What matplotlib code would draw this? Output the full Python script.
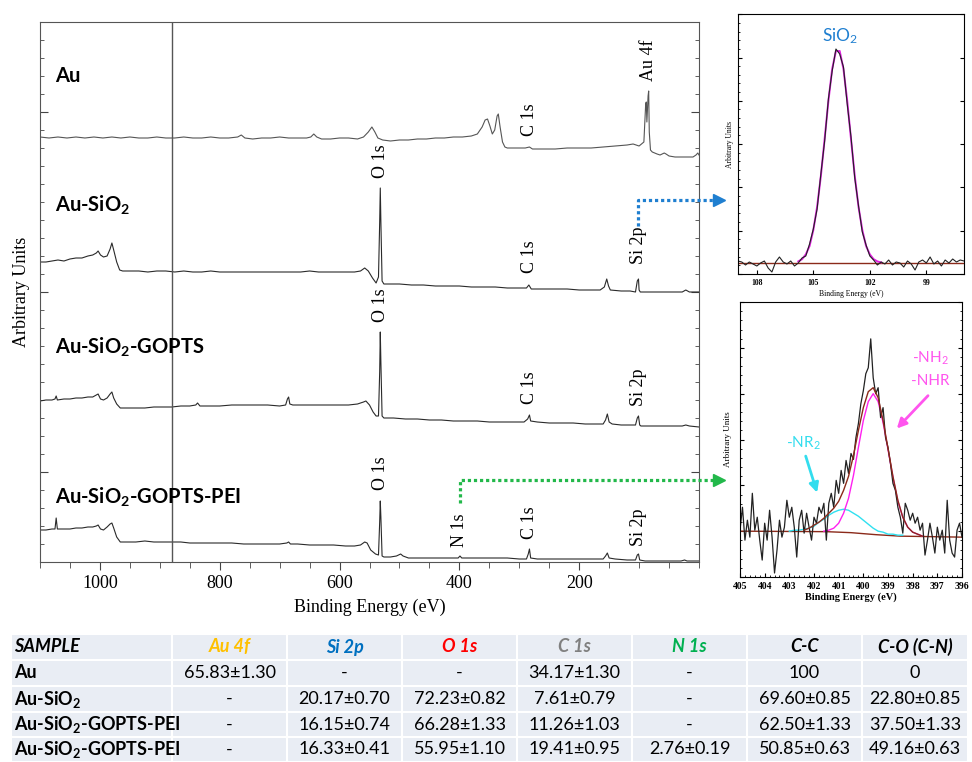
import numpy as np
import matplotlib.pyplot as plt
from matplotlib.patches import Rectangle
from matplotlib.ticker import MultipleLocator

plt.rcParams['font.family'] = ['Liberation Serif', 'DejaVu Serif']

# survey spectra (binding energy in eV, intensity in arbitrary units)
au_e = [1100, 1085, 1070, 1055, 1040, 1025, 1010, 995, 980, 965, 950, 935, 920, 905, 890, 875, 860, 845, 830,
        815, 800, 785, 770, 764, 758, 745, 730, 715, 700, 685, 670, 655, 648, 643, 638, 630, 615, 600, 585, 570,
        560, 552, 546, 541, 536, 528, 515, 500, 485, 470, 455, 440, 425, 410, 395, 380, 370, 362, 357, 353, 349,
        345, 341, 337, 335, 332, 328, 324, 320, 305, 290, 283, 278, 260, 240, 220, 200, 180, 160, 140, 120, 110,
        100, 92, 89, 88, 87, 85, 84, 83, 81, 78, 70, 65, 58, 55, 50, 40, 30, 20, 10, 5, 2, 0]
au_i = [425, 424, 425, 424, 425, 424, 425, 424, 425, 424, 425, 424, 424, 425, 424, 424, 425, 424, 424,
        425, 424, 424, 425, 427, 424, 423, 424, 424, 425, 424, 424, 424, 425, 428, 425, 423, 423, 424, 424, 423,
        425, 430, 435, 430, 424, 422, 421, 422, 422, 423, 423, 424, 424, 425, 425, 426, 428, 435, 442, 443, 436,
        428, 432, 446, 448, 435, 420, 415, 414, 414, 414, 415, 413, 413, 413, 414, 414, 414, 415, 416, 417, 418,
        416, 420, 458, 460, 440, 466, 471, 430, 412, 410, 408, 407, 409, 408, 406, 405, 405, 405, 405, 407, 409, 407]

sio2_e = [1100, 1090, 1080, 1070, 1060, 1050, 1040, 1030, 1020, 1012, 1006, 1003, 999, 994, 988, 983, 980, 977,
          972, 967, 962, 950, 935, 920, 905, 890, 875, 860, 845, 830, 815, 800, 785, 770, 755, 740, 725, 710, 695,
          680, 665, 650, 635, 620, 605, 590, 575, 565, 558, 552, 545, 539, 535, 533, 532, 531, 529, 526, 520, 500,
          480, 460, 440, 420, 400, 380, 360, 340, 320, 300, 288, 284, 280, 260, 240, 220, 200, 180, 165, 158, 154,
          151, 148, 130, 115, 106, 103, 101, 100, 98, 80, 60, 40, 28, 22, 16, 0]
sio2_i = [300, 300, 301, 302, 301, 303, 304, 304, 306, 307, 309, 311, 307, 305, 306, 313, 319, 312,
          300, 292, 291, 291, 291, 290, 291, 291, 290, 291, 290, 290, 291, 290, 290, 290, 290, 290, 290, 290, 290,
          290, 290, 291, 290, 290, 290, 290, 290, 291, 294, 291, 284, 279, 285, 340, 374, 340, 281, 278, 278, 278,
          277, 277, 276, 276, 276, 275, 275, 275, 274, 274, 274, 277, 273, 273, 273, 273, 272, 272, 272, 275, 283,
          276, 272, 271, 271, 270, 281, 283, 272, 270, 270, 270, 270, 270, 272, 270, 270]

gopts_e = [1100, 1090, 1080, 1075, 1073, 1071, 1060, 1050, 1040, 1030, 1020, 1012, 1006, 1003, 999, 994, 988,
           983, 980, 977, 972, 966, 955, 940, 925, 910, 895, 880, 865, 850, 840, 837, 833, 820, 800, 780, 760,
           740, 720, 700, 690, 687, 685, 683, 678, 660, 640, 620, 600, 585, 570, 560, 556, 550, 544, 539, 535,
           533, 532, 531, 529, 526, 510, 490, 470, 450, 430, 410, 390, 370, 350, 330, 310, 292, 286, 283, 281,
           270, 250, 230, 210, 190, 170, 160, 156, 153, 150, 145, 130, 115, 106, 103, 101, 99, 97, 80, 60, 40,
           28, 22, 16, 0]
gopts_i = [161, 162, 162, 163, 166, 162, 163, 163, 164, 164, 165, 165, 167, 168, 163, 162, 164,
           168, 170, 164, 158, 154, 154, 154, 154, 155, 155, 155, 156, 156, 157, 159, 156, 156, 156, 157, 157,
           157, 157, 156, 157, 163, 165, 158, 157, 157, 157, 157, 157, 157, 158, 160, 161, 157, 150, 146, 146,
           190, 230, 200, 146, 144, 144, 143, 143, 142, 142, 141, 141, 141, 140, 140, 140, 140, 143, 147, 141,
           140, 139, 139, 139, 138, 138, 138, 142, 148, 140, 138, 137, 137, 137, 144, 146, 137, 136, 136, 136, 136,
           136, 137, 136, 135]

pei_e = [1100, 1090, 1080, 1075, 1073, 1071, 1060, 1050, 1040, 1030, 1020, 1012, 1006, 1003, 999, 994, 988,
         983, 980, 977, 972, 966, 955, 940, 925, 910, 895, 880, 865, 850, 835, 820, 800, 780, 760, 740, 720,
         700, 688, 685, 682, 670, 650, 630, 610, 590, 575, 565, 558, 554, 548, 540, 535, 533, 532, 531, 529,
         526, 515, 505, 498, 494, 485, 470, 450, 430, 410, 402, 399, 396, 380, 360, 340, 320, 300, 288, 285,
         283, 281, 270, 250, 230, 210, 190, 170, 160, 156, 153, 150, 140, 120, 106, 103, 101, 99, 90, 80, 70,
         50, 30, 24, 20, 0]
pei_i = [32, 32, 33, 33, 44, 33, 33, 33, 34, 34, 35, 35, 36, 37, 33, 32, 35,
         38, 39, 34, 25, 20, 20, 20, 21, 20, 20, 20, 20, 19, 19, 19, 19, 19, 18, 18, 18,
         18, 19, 20, 18, 18, 17, 17, 17, 16, 16, 17, 20, 19, 12, 8, 7, 40, 61, 45, 6,
         5, 5, 6, 8, 6, 4, 4, 4, 4, 4, 4, 6, 4, 4, 4, 4, 4, 3, 3, 8,
         13, 4, 3, 3, 3, 3, 3, 3, 3, 6, 9, 4, 3, 2, 2, 7, 8, 2, 1, 1, 1,
         1, 1, 2, 1, 1]

spectra = [(au_e, au_i, '#555555'), (sio2_e, sio2_i, '#2a2a2a'),
           (gopts_e, gopts_i, '#2a2a2a'), (pei_e, pei_i, '#2a2a2a')]

sample_names = ['Au', r'Au-SiO$\mathregular{_2}$', r'Au-SiO$\mathregular{_2}$-GOPTS',
                r'Au-SiO$\mathregular{_2}$-GOPTS-PEI']
sample_y = [486, 357, 215, 65]

peak_labels = [('Au 4f', 84, 502), ('C 1s', 283, 442), ('O 1s', 532, 401),
               ('C 1s', 283, 305), ('Si 2p', 101, 317), ('O 1s', 532, 257),
               ('C 1s', 283, 174), ('Si 2p', 101, 175),
               ('O 1s', 532, 89), ('N 1s', 399, 32), ('C 1s', 283, 39), ('Si 2p', 101, 35)]

# Si 2p high resolution (Au-SiO2)
si_e = [109.0, 108.8, 108.6, 108.4, 108.2, 108.0, 107.8, 107.6, 107.4, 107.2, 107.0, 106.8, 106.6, 106.4,
        106.2, 106.0, 105.8, 105.6, 105.4, 105.2, 105.0, 104.8, 104.6, 104.4, 104.2, 104.0, 103.8, 103.6,
        103.4, 103.2, 103.0, 102.8, 102.6, 102.4, 102.2, 102.0, 101.8, 101.6, 101.4, 101.2, 101.0, 100.8,
        100.6, 100.4, 100.2, 100.0, 99.8, 99.6, 99.4, 99.2, 99.0, 98.8, 98.6, 98.4, 98.2, 98.0, 97.8, 97.6,
        97.4, 97.2, 97.0]
si_raw = [13, 12, 9, 12, 10, 8, 11, 13, 6, 2, 12, 17, 12, 10,
          13, 8, 11, 16, 18, 30, 45, 65, 100, 133, 175, 203, 225, 220,
          207, 170, 137, 96, 68, 42, 29, 18, 14, 9, 12, 10, 14, 9,
          12, 11, 7, 13, 10, 4, 12, 14, 11, 17, 10, 13, 8, 14, 11, 15,
          12, 14, 13]
si_fit_e = [105.8, 105.6, 105.4, 105.2, 105.0, 104.8, 104.6, 104.4, 104.2, 104.0, 103.8, 103.6, 103.4, 103.2,
            103.0, 102.8, 102.6, 102.4, 102.2, 102.0, 101.8, 101.6, 101.4]
si_fit = [12.6, 14.8, 19.6, 28, 44, 67, 98, 135, 173, 205, 223, 223, 205, 173,
          135, 98, 67, 44, 28, 19.6, 14.8, 12.6, 11.6]
si_bg_e = [109, 97]
si_bg = [11, 11]

# N 1s high resolution (Au-SiO2-GOPTS-PEI)
n_e = [405.0, 404.9, 404.8, 404.7, 404.6, 404.5, 404.4, 404.3, 404.2, 404.1, 404.0, 403.9, 403.8, 403.7,
       403.6, 403.5, 403.4, 403.3, 403.2, 403.1, 403.0, 402.9, 402.8, 402.7, 402.6, 402.5, 402.4, 402.3,
       402.2, 402.1, 402.0, 401.9, 401.8, 401.7, 401.6, 401.5, 401.4, 401.3, 401.2, 401.1, 401.0, 400.9,
       400.8, 400.7, 400.6, 400.5, 400.4, 400.3, 400.2, 400.1, 400.0, 399.9, 399.8, 399.7, 399.6, 399.5,
       399.4, 399.3, 399.2, 399.1, 399.0, 398.9, 398.8, 398.7, 398.6, 398.5, 398.4, 398.3, 398.2, 398.1,
       398.0, 397.9, 397.8, 397.7, 397.6, 397.5, 397.4, 397.3, 397.2, 397.1, 397.0, 396.9, 396.8, 396.7,
       396.6, 396.5, 396.4, 396.3, 396.2, 396.1, 396.0]
n_raw = [47, 70, 37, 57, 40, 84, 47, 60, 37, 17, 54, 37, 67, 40,
         4, 27, 57, 40, 50, 77, 60, 70, 50, 20, 57, 67, 44, 64,
         50, 37, 60, 54, 70, 64, 74, 37, 74, 84, 70, 97, 84, 107,
         94, 117, 104, 124, 118, 140, 154, 174, 187, 204, 210, 239, 200, 184,
         190, 160, 170, 140, 130, 114, 94, 87, 70, 60, 44, 74, 67, 57,
         64, 54, 60, 47, 54, 22, 37, 54, 40, 24, 50, 37, 47, 24,
         77, 37, 24, 20, 47, 54, 40]
nh_e = [401.6, 401.4, 401.2, 401.0, 400.8, 400.6, 400.4, 400.2, 400.0, 399.8, 399.6, 399.4, 399.2, 399.0,
        398.8, 398.6, 398.4, 398.2, 398.0, 397.8, 397.6]
nh_fit = [46, 47, 49, 54, 64, 79, 102, 130, 157, 176, 184, 176, 155, 128,
          100, 76, 60, 50, 45, 43, 41]
nr_e = [403.0, 402.8, 402.6, 402.4, 402.2, 402.0, 401.8, 401.6, 401.4, 401.2, 401.0, 400.8, 400.6, 400.4,
        400.2, 400.0, 399.8, 399.6, 399.4, 399.2, 399.0, 398.8, 398.6, 398.4]
nr_fit = [46, 47, 47, 48, 49, 51, 55, 58, 62, 65, 67, 68, 67, 64,
          61, 57, 53, 49, 46, 45, 43, 43, 42, 42]
env_e = [402.4, 402.2, 402.0, 401.8, 401.6, 401.4, 401.2, 401.0, 400.8, 400.6, 400.4, 400.2, 400.0, 399.8,
         399.6, 399.4, 399.2, 399.0, 398.8, 398.6, 398.4, 398.2, 398.0, 397.8, 397.6]
env_fit = [47, 49, 52, 55, 59, 64, 69, 76, 87, 101, 122, 147, 170, 186,
           190, 180, 157, 129, 101, 77, 60, 50, 45, 43, 41]
n_bg_e = [405, 401.5, 400.5, 399.5, 398.5, 396]
n_bg = [46, 45.5, 44.5, 42.5, 41, 40]

# table of atomic composition
tbl_header = ['SAMPLE', 'Au 4f', 'Si 2p', 'O 1s', 'C 1s', 'N 1s', 'C-C', 'C-O (C-N)']
tbl_colors = ['black', '#ffc000', '#0070c0', '#ff0000', '#808080', '#00b050', 'black', 'black']
tbl_samples = ['Au', r'Au-SiO$\mathregular{_2}$', r'Au-SiO$\mathregular{_2}$-GOPTS-PEI',
               r'Au-SiO$\mathregular{_2}$-GOPTS-PEI']
tbl_values = [
    ['65.83±1.30', '-', '-', '34.17±1.30', '-', '100', '0'],
    ['-', '20.17±0.70', '72.23±0.82', '7.61±0.79', '-', '69.60±0.85', '22.80±0.85'],
    ['-', '16.15±0.74', '66.28±1.33', '11.26±1.03', '-', '62.50±1.33', '37.50±1.33'],
    ['-', '16.33±0.41', '55.95±1.10', '19.41±0.95', '2.76±0.19', '50.85±0.63', '49.16±0.63'],
]

W, H = 972, 762
fig = plt.figure(figsize=(W / 100, H / 100), dpi=100)

# main survey panel
ax = fig.add_axes([40 / W, 1 - 562 / H, 659 / W, 540 / H])
for e, i, c in spectra:
    ax.plot(e, i, color=c, lw=0.8)
ax.axvline(880, color='#555555', lw=1)
ax.set_xlim(1100, 0)
ax.set_ylim(0, 540)
ax.set_xticks([1000, 800, 600, 400, 200])
ax.xaxis.set_minor_locator(MultipleLocator(50))
ax.set_yticks([90, 270, 450])
ax.yaxis.set_minor_locator(MultipleLocator(18))
ax.tick_params(axis='x', which='major', direction='out', length=6, labelsize=13, color='#444')
ax.tick_params(axis='x', which='minor', direction='out', length=4, color='#444')
ax.tick_params(axis='y', which='both', direction='in', left=True, right=True, labelleft=False, color='#444')
ax.tick_params(axis='y', which='major', length=6)
ax.tick_params(axis='y', which='minor', length=3)
for s in ax.spines.values():
    s.set_color('#555555')
ax.set_xlabel('Binding Energy (eV)', fontsize=13, labelpad=5)
ax.set_ylabel('Arbitrary Units', fontsize=13, labelpad=7)

for name, y in zip(sample_names, sample_y):
    ax.text(1075, y, name, family='Lato', weight='bold', fontsize=14.5, ha='left', va='center')
for txt, x, y in peak_labels:
    ax.text(x, y, txt, rotation=90, ha='center', va='center', fontsize=13)

# Si 2p inset
ax1 = fig.add_axes([738 / W, 1 - 274 / H, 226 / W, 260 / H])
ax1.plot(si_bg_e, si_bg, color='#8b2a1a', lw=1)
ax1.plot(si_fit_e, si_fit, color='#e020e0', lw=1.4)
ax1.plot(si_e, si_raw, color='#222222', lw=0.8)
ax1.set_xlim(109, 97)
ax1.set_ylim(0, 260)
ax1.set_xticks([108, 105, 102, 99])
ax1.yaxis.set_major_locator(MultipleLocator(43.3))
ax1.yaxis.set_minor_locator(MultipleLocator(8.66))
ax1.tick_params(axis='both', which='both', direction='in', labelsize=5.5)
ax1.tick_params(axis='y', which='both', left=True, right=True, labelleft=False)
ax1.tick_params(axis='y', which='major', length=3)
ax1.tick_params(axis='y', which='minor', length=1.5, right=False)
ax1.tick_params(axis='x', which='major', length=3)
for lbl in ax1.get_xticklabels():
    lbl.set_fontweight('bold')
ax1.set_xlabel('Binding Energy (eV)', fontsize=5.5, labelpad=2)
ax1.set_ylabel('Arbitrary Units', fontsize=5.5, labelpad=3)
ax1.text(103.6, 238, r'SiO$\mathregular{_2}$', family='Lato', color='#1f7fd0', fontsize=12.5,
         ha='center', va='center')

# N 1s inset
ax2 = fig.add_axes([740 / W, 1 - 577 / H, 222 / W, 275 / H])
ax2.plot(n_bg_e, n_bg, color='#8b2a1a', lw=1)
ax2.plot(nr_e, nr_fit, color='#30e0f0', lw=1)
ax2.plot(nh_e, nh_fit, color='#ff20f0', lw=1)
ax2.plot(n_e, n_raw, color='#222222', lw=0.9)
ax2.plot(env_e, env_fit, color='#8b2a1a', lw=1)
ax2.set_xlim(405, 396)
ax2.set_ylim(0, 276)
ax2.set_xticks([405, 404, 403, 402, 401, 400, 399, 398, 397, 396])
ax2.xaxis.set_minor_locator(MultipleLocator(0.2))
ax2.yaxis.set_major_locator(MultipleLocator(46))
ax2.yaxis.set_minor_locator(MultipleLocator(9.2))
ax2.tick_params(axis='both', which='both', direction='in', labelsize=7)
ax2.tick_params(axis='y', which='both', left=True, right=True, labelleft=False)
ax2.tick_params(which='major', length=3)
ax2.tick_params(which='minor', length=1.5)
for lbl in ax2.get_xticklabels():
    lbl.set_fontweight('bold')
ax2.set_xlabel('Binding Energy (eV)', fontsize=7.5, fontweight='bold', labelpad=1)
ax2.set_ylabel('Arbitrary Units', fontsize=6.5, labelpad=6)
ax2.text(397.3, 219, r'-NH$\mathregular{_2}$', family='Lato', color='#ff55ee', fontsize=11,
         ha='center', va='center')
ax2.text(397.3, 197, '-NHR', family='Lato', color='#ff55ee', fontsize=11, ha='center', va='center')
ax2.text(402.45, 134, r'-NR$\mathregular{_2}$', family='Lato', color='#33ddee', fontsize=11,
         ha='center', va='center')
ax2.annotate('', xy=(398.72, 147), xytext=(397.3, 184),
             arrowprops=dict(arrowstyle='-|>', color='#ff55ee', lw=2, mutation_scale=14))
ax2.annotate('', xy=(401.84, 82), xytext=(402.37, 124),
             arrowprops=dict(arrowstyle='-|>', color='#33ddee', lw=2, mutation_scale=14))

# overlay in pixel coordinates for the connectors and the table
ov = fig.add_axes([0, 0, 1, 1], zorder=5)
ov.set_xlim(0, W)
ov.set_ylim(H, 0)
ov.axis('off')
ov.patch.set_alpha(0)

ov.plot([638, 638, 714], [226, 200, 200], ls=(0, (1, 0.9)), color='#1f7fd0', lw=2.3)
ov.plot([719], [200], marker='>', ms=8, color='#1f7fd0')
ov.plot([460, 460, 714], [503, 480, 480], ls=(0, (1, 0.9)), color='#22b84a', lw=2.3)
ov.plot([719], [480], marker='>', ms=8, color='#22b84a')

col_edges = [11, 172, 287, 402, 517, 632, 747, 862, 968]
row_edges = [634, 660, 686, 712, 737, 762]
for r in range(len(row_edges) - 1):
    for c in range(len(col_edges) - 1):
        ov.add_patch(Rectangle((col_edges[c], row_edges[r]), col_edges[c + 1] - col_edges[c],
                               row_edges[r + 1] - row_edges[r], facecolor='#e9edf4',
                               edgecolor='white', lw=1.5))

def cell_y(r):
    return (row_edges[r] + row_edges[r + 1]) / 2

def cell_x(c):
    return (col_edges[c] + col_edges[c + 1]) / 2

ov.text(14, cell_y(0), tbl_header[0], family='Lato', weight='bold', style='italic', fontsize=13,
        ha='left', va='center')
for c in range(1, len(tbl_header)):
    ov.text(cell_x(c), cell_y(0), tbl_header[c], family='Lato', weight='bold', style='italic',
            fontsize=13, color=tbl_colors[c], ha='center', va='center')
for r, (name, vals) in enumerate(zip(tbl_samples, tbl_values)):
    ov.text(14, cell_y(r + 1), name, family='Lato', weight='bold', fontsize=13, ha='left', va='center')
    for c, v in enumerate(vals):
        ov.text(cell_x(c + 1), cell_y(r + 1), v, family='Lato', fontsize=13, ha='center', va='center')

fig.savefig('out.png', dpi=100)
